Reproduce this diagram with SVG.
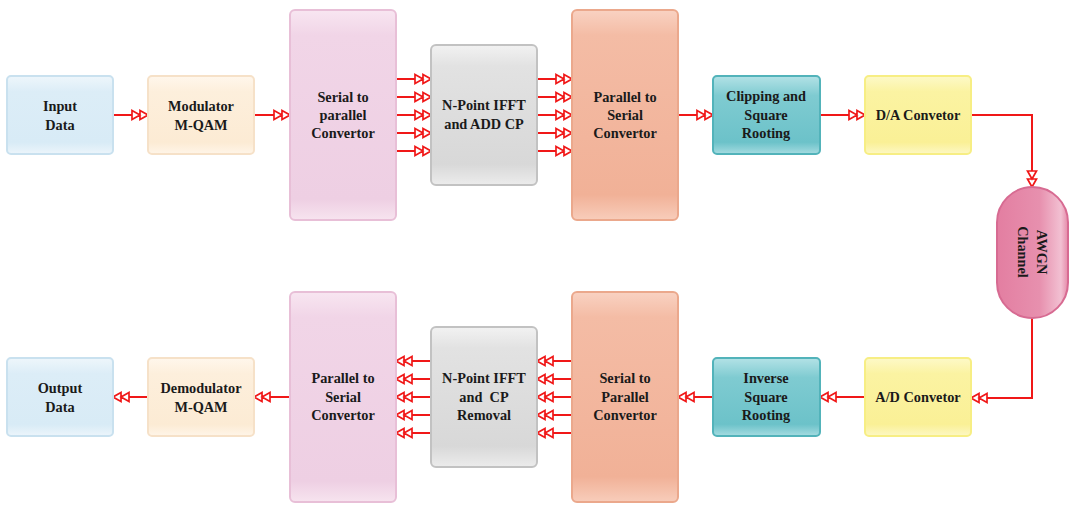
<svg xmlns="http://www.w3.org/2000/svg" width="1081" height="512" viewBox="0 0 1081 512">
<defs>
<style>
text{font-family:"Liberation Serif","Times New Roman",serif;font-weight:bold;font-size:14.3px;fill:#1a1a1a;text-anchor:middle}
.box{stroke-width:2}
.con{fill:none;stroke:#f01818;stroke-width:2;marker-end:url(#dbl)}
</style>
<marker id="dbl" markerUnits="userSpaceOnUse" viewBox="-1 -6 18 12" refX="16" refY="0" markerWidth="18" markerHeight="12" orient="auto">
<path d="M0,-4.5 L8,0 L0,4.5 Z M8,-4.5 L16,0 L8,4.5 Z" fill="#fff" stroke="#f01818" stroke-width="1.7" stroke-linejoin="miter"/>
</marker>
<linearGradient id="gBlue" x1="0" y1="0" x2="0" y2="1"><stop offset="0" stop-color="#eef6fb"/><stop offset="0.2" stop-color="#dcedf7"/><stop offset="0.85" stop-color="#d8ebf6"/><stop offset="1" stop-color="#ecf5fb"/></linearGradient>
<linearGradient id="gPeach" x1="0" y1="0" x2="0" y2="1"><stop offset="0" stop-color="#fff7ec"/><stop offset="0.2" stop-color="#fdefdc"/><stop offset="0.85" stop-color="#fcebd4"/><stop offset="1" stop-color="#fff5e8"/></linearGradient>
<linearGradient id="gPink" x1="0" y1="0" x2="0" y2="1"><stop offset="0" stop-color="#f8e6f1"/><stop offset="0.12" stop-color="#f1d5e7"/><stop offset="0.9" stop-color="#eecfe3"/><stop offset="1" stop-color="#f7e4ef"/></linearGradient>
<linearGradient id="gGray" x1="0" y1="0" x2="0" y2="1"><stop offset="0" stop-color="#f2f2f2"/><stop offset="0.15" stop-color="#e2e2e2"/><stop offset="0.85" stop-color="#d8d8d8"/><stop offset="1" stop-color="#ececec"/></linearGradient>
<linearGradient id="gSalmon" x1="0" y1="0" x2="0" y2="1"><stop offset="0" stop-color="#f9d2c2"/><stop offset="0.12" stop-color="#f4bca5"/><stop offset="0.88" stop-color="#f1b197"/><stop offset="1" stop-color="#f8cdbb"/></linearGradient>
<linearGradient id="gTeal" x1="0" y1="0" x2="0" y2="1"><stop offset="0" stop-color="#b3e2e6"/><stop offset="0.25" stop-color="#7fcbd1"/><stop offset="0.85" stop-color="#6cc2c9"/><stop offset="1" stop-color="#a6dce1"/></linearGradient>
<linearGradient id="gYellow" x1="0" y1="0" x2="0" y2="1"><stop offset="0" stop-color="#fdf9c8"/><stop offset="0.2" stop-color="#fbf3a2"/><stop offset="0.85" stop-color="#faf096"/><stop offset="1" stop-color="#fdf8c4"/></linearGradient>
<linearGradient id="gRose" x1="0" y1="0" x2="1" y2="0"><stop offset="0" stop-color="#e37ea1"/><stop offset="0.6" stop-color="#e790ae"/><stop offset="0.9" stop-color="#f2c0d2"/><stop offset="1" stop-color="#e58aa9"/></linearGradient>
</defs>
<rect width="1081" height="512" fill="#ffffff"/>

<g id="connectors">
<path class="con" d="M113,115 H148"/>
<path class="con" d="M254,115 H290"/>
<path class="con" d="M396,79 H431"/>
<path class="con" d="M396,97 H431"/>
<path class="con" d="M396,115 H431"/>
<path class="con" d="M396,133 H431"/>
<path class="con" d="M396,151 H431"/>
<path class="con" d="M537,79 H572"/>
<path class="con" d="M537,97 H572"/>
<path class="con" d="M537,115 H572"/>
<path class="con" d="M537,133 H572"/>
<path class="con" d="M537,151 H572"/>
<path class="con" d="M678,115 H713"/>
<path class="con" d="M820,115 H865"/>
<path class="con" d="M971,115 H1032 V187"/>
<path class="con" d="M1032,318 V398 H971"/>
<path class="con" d="M865,397 H820"/>
<path class="con" d="M713,397 H678"/>
<path class="con" d="M572,361 H537"/>
<path class="con" d="M572,379 H537"/>
<path class="con" d="M572,397 H537"/>
<path class="con" d="M572,415 H537"/>
<path class="con" d="M572,433 H537"/>
<path class="con" d="M431,361 H396"/>
<path class="con" d="M431,379 H396"/>
<path class="con" d="M431,397 H396"/>
<path class="con" d="M431,415 H396"/>
<path class="con" d="M431,433 H396"/>
<path class="con" d="M290,397 H254"/>
<path class="con" d="M148,397 H113"/>
</g>

<g id="input-data">
<rect class="box" x="7" y="76" width="106" height="78" rx="4" fill="url(#gBlue)" stroke="#c9e1ef"/>
<text x="60" y="111">Input</text><text x="60" y="129.5">Data</text>
</g>
<g id="modulator">
<rect class="box" x="148" y="76" width="106" height="78" rx="4" fill="url(#gPeach)" stroke="#f6e1c8"/>
<text x="201" y="111">Modulator</text><text x="201" y="129.5">M-QAM</text>
</g>
<g id="serial-to-parallel-tx">
<rect class="box" x="290" y="10" width="106" height="210" rx="5" fill="url(#gPink)" stroke="#e8bfd7"/>
<text x="343" y="102">Serial to</text><text x="343" y="120">parallel</text><text x="343" y="138">Convertor</text>
</g>
<g id="ifft-tx">
<rect class="box" x="431" y="45" width="106" height="140" rx="5" fill="url(#gGray)" stroke="#c2c2c2"/>
<text x="484" y="110">N-Point IFFT</text><text x="484" y="129">and ADD CP</text>
</g>
<g id="parallel-to-serial-tx">
<rect class="box" x="572" y="10" width="106" height="210" rx="5" fill="url(#gSalmon)" stroke="#eba88c"/>
<text x="625" y="102">Parallel to</text><text x="625" y="120">Serial</text><text x="625" y="138">Convertor</text>
</g>
<g id="clipping">
<rect class="box" x="713" y="76" width="107" height="78" rx="4" fill="url(#gTeal)" stroke="#52b3ba"/>
<text x="766" y="101">Clipping and</text><text x="766" y="120">Square</text><text x="766" y="138">Rooting</text>
</g>
<g id="da-convertor">
<rect class="box" x="865" y="76" width="106" height="78" rx="4" fill="url(#gYellow)" stroke="#f7ee84"/>
<text x="918" y="120">D/A Convetor</text>
</g>
<g id="awgn">
<rect class="box" x="997" y="187" width="71" height="131" rx="35.5" fill="url(#gRose)" stroke="#d76b92"/>
<g transform="translate(1032,252) rotate(90)"><text x="0" y="-5">AWGN</text><text x="0" y="14">Channel</text></g>
</g>
<g id="ad-convertor">
<rect class="box" x="865" y="358" width="106" height="78" rx="4" fill="url(#gYellow)" stroke="#f7ee84"/>
<text x="918" y="402">A/D Convetor</text>
</g>
<g id="inverse-sqrt">
<rect class="box" x="713" y="358" width="107" height="78" rx="4" fill="url(#gTeal)" stroke="#52b3ba"/>
<text x="766" y="383">Inverse</text><text x="766" y="402">Square</text><text x="766" y="420">Rooting</text>
</g>
<g id="serial-to-parallel-rx">
<rect class="box" x="572" y="292" width="106" height="210" rx="5" fill="url(#gSalmon)" stroke="#eba88c"/>
<text x="625" y="383">Serial to</text><text x="625" y="402">Parallel</text><text x="625" y="420">Convertor</text>
</g>
<g id="fft-rx">
<rect class="box" x="431" y="327" width="106" height="140" rx="5" fill="url(#gGray)" stroke="#c2c2c2"/>
<text x="484" y="383">N-Point IFFT</text><text x="484" y="402" style="white-space:pre">and  CP</text><text x="484" y="420">Removal</text>
</g>
<g id="parallel-to-serial-rx">
<rect class="box" x="290" y="292" width="106" height="210" rx="5" fill="url(#gPink)" stroke="#e8bfd7"/>
<text x="343" y="383">Parallel to</text><text x="343" y="402">Serial</text><text x="343" y="420">Convertor</text>
</g>
<g id="demodulator">
<rect class="box" x="148" y="358" width="106" height="78" rx="4" fill="url(#gPeach)" stroke="#f6e1c8"/>
<text x="201" y="393">Demodulator</text><text x="201" y="411.5">M-QAM</text>
</g>
<g id="output-data">
<rect class="box" x="7" y="358" width="106" height="78" rx="4" fill="url(#gBlue)" stroke="#c9e1ef"/>
<text x="60" y="393">Output</text><text x="60" y="411.5">Data</text>
</g>
</svg>
